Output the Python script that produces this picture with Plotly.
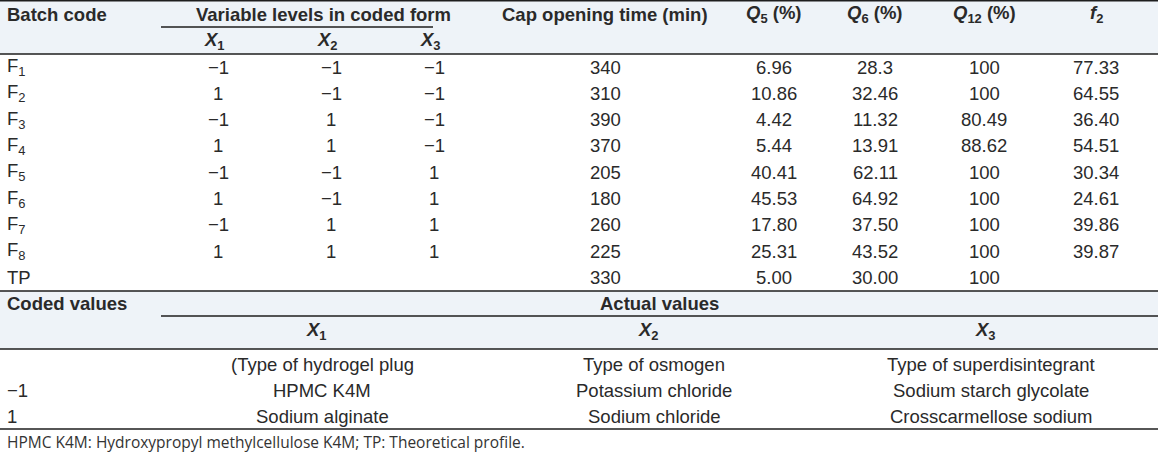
import plotly.graph_objects as go

# ---------------- data ----------------
batch_codes = ["F<sub>1</sub>", "F<sub>2</sub>", "F<sub>3</sub>", "F<sub>4</sub>", "F<sub>5</sub>",
               "F<sub>6</sub>", "F<sub>7</sub>", "F<sub>8</sub>", "TP"]
x1_levels = ["\u22121", "1", "\u22121", "1", "\u22121", "1", "\u22121", "1", ""]
x2_levels = ["\u22121", "\u22121", "1", "1", "\u22121", "\u22121", "1", "1", ""]
x3_levels = ["\u22121", "\u22121", "\u22121", "\u22121", "1", "1", "1", "1", ""]
cap_time = ["340", "310", "390", "370", "205", "180", "260", "225", "330"]
q5 = ["6.96", "10.86", "4.42", "5.44", "40.41", "45.53", "17.80", "25.31", "5.00"]
q6 = ["28.3", "32.46", "11.32", "13.91", "62.11", "64.92", "37.50", "43.52", "30.00"]
q12 = ["100", "100", "80.49", "88.62", "100", "100", "100", "100", "100"]
f2 = ["77.33", "64.55", "36.40", "54.51", "30.34", "24.61", "39.86", "39.87", ""]

header_top = ["<b>Batch code</b>", "<b>Variable levels in coded form</b>", "<b>Cap opening time (min)</b>",
              "<b><i>Q</i></b><sub><b>5</b></sub><b> (%)</b>", "<b><i>Q</i></b><sub><b>6</b></sub><b> (%)</b>",
              "<b><i>Q</i></b><sub><b>12</b></sub><b> (%)</b>", "<b><i>f</i></b><sub><b>2</b></sub>"]
var_labels = ["<b><i>X</i></b><sub><b>1</b></sub>", "<b><i>X</i></b><sub><b>2</b></sub>",
              "<b><i>X</i></b><sub><b>3</b></sub>"]
coded_values = ["", "\u22121", "1"]
x1_actual = ["(Type of hydrogel plug", "HPMC K4M", "Sodium alginate"]
x2_actual = ["Type of osmogen", "Potassium chloride", "Sodium chloride"]
x3_actual = ["Type of superdisintegrant", "Sodium starch glycolate", "Crosscarmellose sodium"]
footnote = "HPMC K4M: Hydroxypropyl methylcellulose K4M; TP: Theoretical profile."

# ---------------- layout constants ----------------
W, H = 1158, 453
TXT = "#2a2a2a"
FILL = "#eef3f8"
LINE = "#1e1e1e"
FONT = "Liberation Sans, Arial, sans-serif"
FS = 18.5

col_x = {"x1": 218, "x2": 331, "x3": 434, "cap": 605, "q5": 774, "q6": 875, "q12": 984, "f2": 1096}
row_y0, row_step = 67, 26.3

fig = go.Figure()
shapes = []
annots = []

def txt(x, y, s, anchor="center", size=FS, family=FONT, color=TXT):
    if not s:
        return
    annots.append(dict(x=x, y=y, xref="x", yref="y", text=s, showarrow=False,
                       xanchor=anchor, yanchor="middle",
                       font=dict(family=family, size=size, color=color)))

def hline(y, x0=0, x1=W, w=1.5):
    shapes.append(dict(type="line", xref="x", yref="y", x0=x0, x1=x1, y0=y, y1=y,
                       line=dict(color=LINE, width=w)))

def band(y0, y1):
    shapes.append(dict(type="rect", xref="x", yref="y", x0=0, x1=W, y0=y0, y1=y1,
                       fillcolor=FILL, line=dict(width=0), layer="below"))

band(0, 54)
band(291, 349)
hline(0.8)
hline(27, 161, 433, 1.3)
hline(54)
hline(291)
hline(316, 161, W, 1.3)
hline(349)
hline(429)

# header
hy1, hy2 = 14, 41
txt(5, hy1, header_top[0], "left")
txt(323, hy1, header_top[1])
txt(col_x["cap"], hy1, header_top[2])
txt(col_x["q5"], hy1, header_top[3])
txt(col_x["q6"], hy1, header_top[4])
txt(col_x["q12"], hy1, header_top[5])
txt(col_x["f2"], hy1, header_top[6])
for k, lab in zip(["x1", "x2", "x3"], var_labels):
    txt(col_x[k] - 4, hy2, lab)

# data rows
for i in range(len(batch_codes)):
    y = row_y0 + i * row_step
    txt(5, y, batch_codes[i], "left")
    txt(col_x["x1"], y, x1_levels[i])
    txt(col_x["x2"], y, x2_levels[i])
    txt(col_x["x3"], y, x3_levels[i])
    txt(col_x["cap"], y, cap_time[i])
    txt(col_x["q5"], y, q5[i])
    txt(col_x["q6"], y, q6[i])
    txt(col_x["q12"], y, q12[i])
    txt(col_x["f2"], y, f2[i])

# lower block
txt(5, 303, "<b>Coded values</b>", "left")
txt(659, 303, "<b>Actual values</b>")
ax = [322, 654, 991]
for xx, lab in zip(ax, var_labels):
    txt(xx - 6, 331, lab)
for j, y in enumerate([364, 390, 416]):
    txt(5, y, coded_values[j], "left")
    txt(ax[0], y, x1_actual[j])
    txt(ax[1], y, x2_actual[j])
    txt(ax[2], y, x3_actual[j])

txt(5, 442, footnote, "left", size=15.5, family="Open Sans, Lato, sans-serif", color="#333333")

fig.update_layout(
    width=W, height=H, margin=dict(l=0, r=0, t=0, b=0),
    paper_bgcolor="white", plot_bgcolor="rgba(0,0,0,0)",
    xaxis=dict(range=[0, W], visible=False, fixedrange=True),
    yaxis=dict(range=[H, 0], visible=False, fixedrange=True),
    shapes=shapes, annotations=annots, showlegend=False,
)
fig.write_html("out.html", config={"displayModeBar": False},
               post_script="document.body.style.margin='0';document.body.style.overflow='hidden';")
